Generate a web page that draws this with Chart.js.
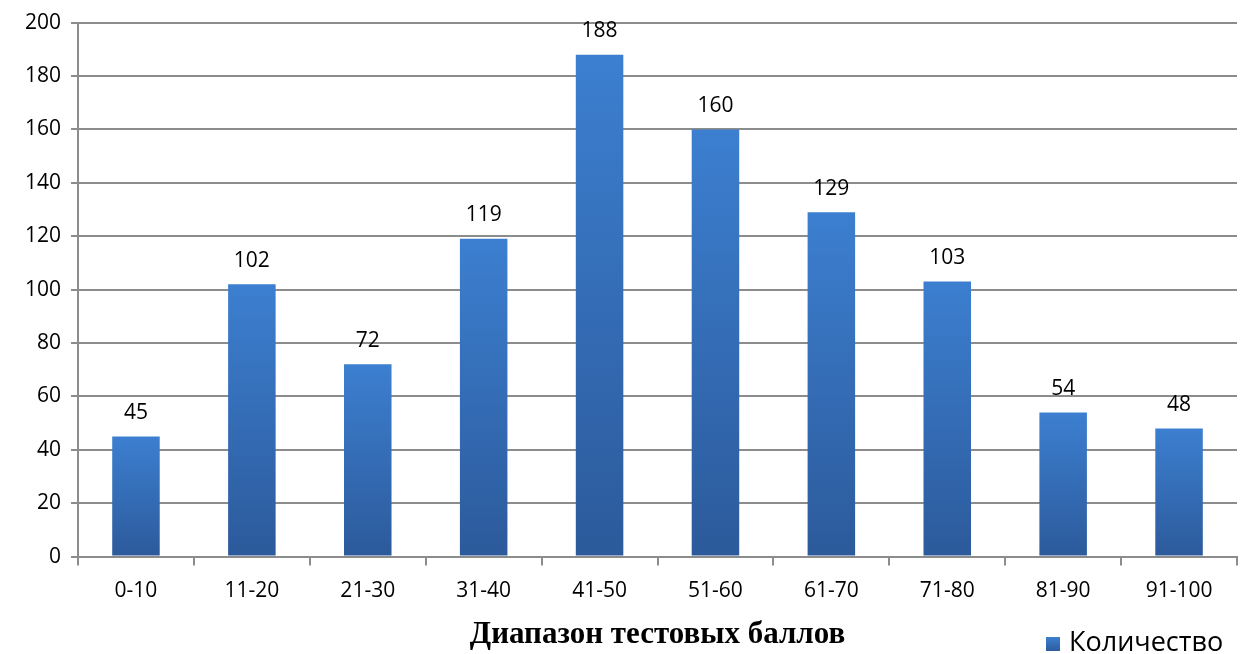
<!DOCTYPE html>
<html>
<head>
<meta charset="utf-8">
<script src="https://cdn.jsdelivr.net/npm/chart.js@4"></script>
<style>
  body { margin: 0; background: #fff; }
  #wrap { position: relative; width: 1245px; height: 654px; }
  #legend { position: absolute; left: 1046px; top: 622px; font: 27px "Open Sans", sans-serif; color: #000; }
  #legend span.box { display: inline-block; width: 14px; height: 14px; margin-right: 9px;
    background: linear-gradient(#3c7fd0, #2d5c9f); }
</style>
</head>
<body>
<div id="wrap">
  <canvas id="chart" width="1245" height="654"></canvas>
  <div id="legend"><span class="box"></span>Количество</div>
</div>
<script>
// data
const ranges = ['0-10', '11-20', '21-30', '31-40', '41-50', '51-60', '61-70', '71-80', '81-90', '91-100'];
const counts = [45, 102, 72, 119, 188, 160, 129, 103, 54, 48];
const yTicks = [0, 20, 40, 60, 80, 100, 120, 140, 160, 180, 200];

const ctx = document.querySelector('#chart').getContext('2d');

// value labels above bars
const valueLabels = {
    id: 'valueLabels',
    afterDatasetsDraw(chart) {
        const c = chart.ctx;
        const meta = chart.getDatasetMeta(0);
        c.save();
        c.font = '21px "Open Sans", sans-serif';
        c.fillStyle = '#000';
        c.textAlign = 'center';
        c.textBaseline = 'bottom';
        meta.data.forEach((bar, i) => {
            c.fillText(String(counts[i]), bar.x, bar.y - 13);
        });
        c.restore();
    }
};

function barFill(context) {
    const chart = context.chart;
    const y = chart.scales.y;
    if (!chart.chartArea || !y) return '#3570bb';
    const top = y.getPixelForValue(context.raw);
    const bottom = y.getPixelForValue(0);
    const g = chart.ctx.createLinearGradient(0, top, 0, bottom);
    g.addColorStop(0, '#3c7fd0');
    g.addColorStop(1, '#2c5a9b');
    return g;
}

new Chart(ctx, {
    type: 'bar',
    data: {
        labels: ranges,
        datasets: [{
            label: 'Количество',
            data: counts,
            backgroundColor: barFill,
            barPercentage: 0.41,
            categoryPercentage: 1.0
        }]
    },
    options: {
        responsive: false,
        animation: false,
        layout: { padding: { left: 15, right: 8, top: 18, bottom: 0 } },
        plugins: {
            legend: { display: false },
            tooltip: { enabled: false }
        },
        scales: {
            x: {
                grid: {
                    offset: true,
                    drawOnChartArea: false,
                    color: '#8c8c8c',
                    lineWidth: 2,
                    tickLength: 9
                },
                border: { color: '#8c8c8c', width: 2 },
                ticks: {
                    color: '#000',
                    font: { size: 21, family: '"Open Sans", sans-serif' },
                    padding: 13,
                    maxRotation: 0
                },
                title: {
                    display: true,
                    text: 'Диапазон тестовых баллов',
                    color: '#000',
                    font: { size: 31, weight: 'bold', family: '"Liberation Serif", serif' },
                    padding: { top: 0, bottom: 0 }
                }
            },
            y: {
                min: 0,
                max: 200,
                afterBuildTicks(axis) { axis.ticks = yTicks.map(v => ({ value: v })); },
                grid: { color: '#8c8c8c', lineWidth: 2, tickLength: 7 },
                border: { color: '#8c8c8c', width: 2 },
                ticks: {
                    color: '#000',
                    font: { size: 21, family: '"Open Sans", sans-serif' },
                    padding: 10
                }
            }
        }
    },
    plugins: [valueLabels]
});
</script>
</body>
</html>
